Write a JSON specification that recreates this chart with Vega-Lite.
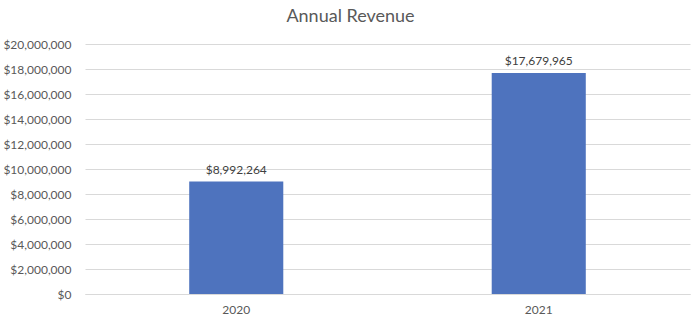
{
  "$schema": "https://vega.github.io/schema/vega-lite/v6.json",
  "width": 605,
  "height": 250,
  "autosize": {"type": "none"},
  "padding": {"left": 85, "top": 44, "right": 10, "bottom": 31},
  "background": "white",
  "title": {
    "text": "Annual Revenue",
    "anchor": "middle",
    "font": "Lato",
    "fontSize": 18,
    "fontWeight": "normal",
    "color": "#595959",
    "dx": -37,
    "offset": 12
  },
  "data": {
    "values": [
      {"year": "2020", "revenue": 8992264},
      {"year": "2021", "revenue": 17679965}
    ]
  },
  "config": {
    "view": {"stroke": null},
    "axis": {"labelFont": "Lato", "labelFontSize": 12, "labelColor": "#595959"}
  },
  "encoding": {
    "x": {
      "field": "year",
      "type": "nominal",
      "scale": {"paddingInner": 0.689, "paddingOuter": 0.3445},
      "axis": {
        "title": null,
        "labelAngle": 0,
        "ticks": false,
        "domain": true,
        "domainColor": "#D9D9D9",
        "labelPadding": 10
      }
    },
    "y": {
      "field": "revenue",
      "type": "quantitative",
      "scale": {"domain": [0, 20000000], "nice": false},
      "axis": {
        "title": null,
        "values": [0, 2000000, 4000000, 6000000, 8000000, 10000000, 12000000, 14000000, 16000000, 18000000, 20000000],
        "format": "$,.0f",
        "ticks": false,
        "domain": false,
        "gridColor": "#D9D9D9",
        "gridWidth": 1,
        "labelPadding": 14
      }
    }
  },
  "layer": [
    {"mark": {"type": "bar", "color": "#4E73BE"}},
    {
      "mark": {"type": "text", "dy": -12, "font": "Lato", "fontSize": 12, "color": "#404040"},
      "encoding": {"text": {"field": "revenue", "type": "quantitative", "format": "$,.0f"}}
    }
  ]
}
